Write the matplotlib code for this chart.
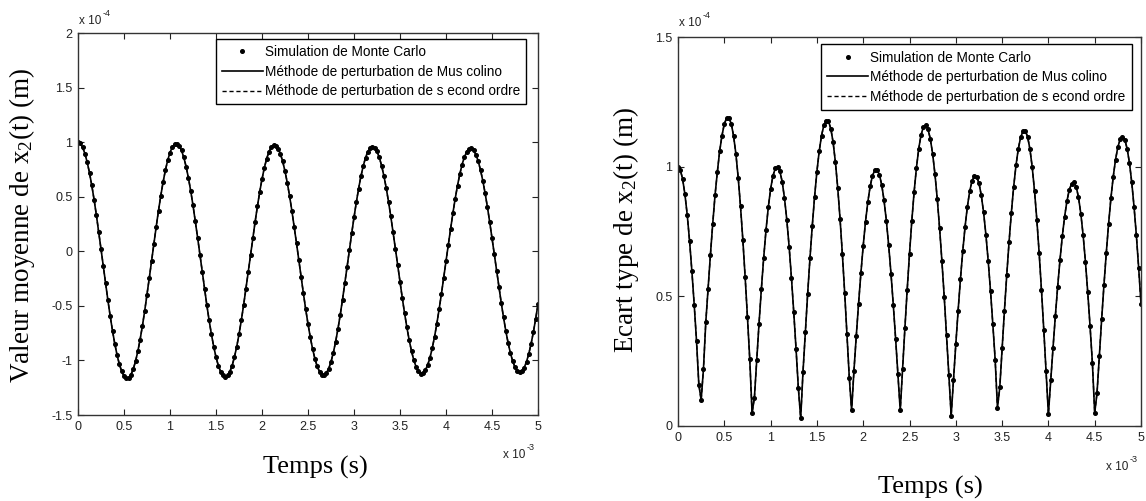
import numpy as np
import matplotlib
matplotlib.use("Agg")
import matplotlib.pyplot as plt
from matplotlib.lines import Line2D

plt.rcParams["mathtext.fontset"] = "custom"
plt.rcParams["mathtext.rm"] = "Liberation Serif"
plt.rcParams["mathtext.default"] = "rm"

# time grid (x 1e-3 s)
time_ms = np.linspace(0, 5, 201)

# mean of x2(t) (x 1e-4 m) - Monte Carlo / perturbation curves overlap
mean_mc = [
    1.000, 0.988, 0.953, 0.895, 0.816, 0.718, 0.603, 0.472, 0.330, 0.178, 0.021,
    -0.138, -0.295, -0.449, -0.594, -0.728, -0.848, -0.952, -1.036, -1.100, -1.143,
    -1.162, -1.158, -1.131, -1.081, -1.009, -0.918, -0.809, -0.684, -0.546, -0.398,
    -0.244, -0.087, 0.071, 0.225, 0.373, 0.510, 0.635, 0.743, 0.834, 0.905,
    0.954, 0.981, 0.985, 0.966, 0.924, 0.860, 0.776, 0.673, 0.554, 0.421,
    0.277, 0.126, -0.030, -0.187, -0.342, -0.491, -0.631, -0.760, -0.873, -0.969,
    -1.047, -1.103, -1.138, -1.149, -1.138, -1.104, -1.048, -0.971, -0.875, -0.762,
    -0.634, -0.494, -0.346, -0.192, -0.036, 0.118, 0.269, 0.411, 0.543, 0.661,
    0.763, 0.847, 0.910, 0.952, 0.971, 0.967, 0.941, 0.893, 0.823, 0.734,
    0.627, 0.505, 0.370, 0.225, 0.074, -0.081, -0.235, -0.386, -0.531, -0.666,
    -0.788, -0.895, -0.984, -1.054, -1.103, -1.130, -1.134, -1.116, -1.075, -1.013,
    -0.930, -0.830, -0.714, -0.584, -0.443, -0.295, -0.142, 0.012, 0.164, 0.310,
    0.448, 0.574, 0.686, 0.780, 0.857, 0.912, 0.947, 0.958, 0.948, 0.915,
    0.860, 0.785, 0.691, 0.581, 0.455, 0.319, 0.174, 0.023, -0.130, -0.282,
    -0.429, -0.569, -0.698, -0.814, -0.915, -0.997, -1.059, -1.101, -1.120, -1.117,
    -1.091, -1.044, -0.977, -0.890, -0.785, -0.665, -0.533, -0.392, -0.244, -0.092,
    0.059, 0.208, 0.350, 0.482, 0.602, 0.707, 0.795, 0.864, 0.912, 0.939,
    0.943, 0.926, 0.886, 0.826, 0.745, 0.647, 0.533, 0.406, 0.268, 0.123,
    -0.027, -0.177, -0.326, -0.470, -0.605, -0.729, -0.839, -0.932, -1.007, -1.062,
    -1.096, -1.108, -1.098, -1.066, -1.012, -0.939, -0.847, -0.739, -0.617, -0.484,
]
mean_muscolino = mean_mc
mean_second = mean_mc

# standard deviation of x2(t) (x 1e-4 m)
std_mc = [
    1.000, 0.988, 0.952, 0.893, 0.813, 0.713, 0.597, 0.468, 0.328, 0.160, 0.100,
    0.220, 0.400, 0.530, 0.660, 0.780, 0.890, 0.980, 1.060, 1.120, 1.165,
    1.187, 1.188, 1.166, 1.119, 1.050, 0.958, 0.847, 0.719, 0.575, 0.420,
    0.257, 0.050, 0.109, 0.254, 0.395, 0.527, 0.647, 0.754, 0.843, 0.914,
    0.964, 0.993, 1.000, 0.983, 0.942, 0.879, 0.795, 0.692, 0.572, 0.439,
    0.296, 0.145, 0.030, 0.210, 0.363, 0.509, 0.646, 0.772, 0.884, 0.981,
    1.060, 1.120, 1.159, 1.178, 1.175, 1.147, 1.094, 1.017, 0.918, 0.799,
    0.663, 0.514, 0.353, 0.186, 0.060, 0.213, 0.346, 0.472, 0.589, 0.695,
    0.788, 0.864, 0.924, 0.965, 0.986, 0.988, 0.969, 0.930, 0.870, 0.792,
    0.697, 0.588, 0.467, 0.337, 0.200, 0.060, 0.219, 0.376, 0.525, 0.664,
    0.791, 0.903, 0.996, 1.070, 1.123, 1.153, 1.160, 1.144, 1.107, 1.049,
    0.971, 0.875, 0.763, 0.636, 0.498, 0.350, 0.197, 0.040, 0.179, 0.315,
    0.445, 0.566, 0.674, 0.768, 0.846, 0.905, 0.944, 0.963, 0.961, 0.937,
    0.890, 0.824, 0.738, 0.636, 0.520, 0.392, 0.256, 0.070, 0.149, 0.299,
    0.444, 0.581, 0.709, 0.823, 0.923, 1.005, 1.069, 1.113, 1.136, 1.138,
    1.116, 1.069, 0.999, 0.907, 0.796, 0.668, 0.525, 0.372, 0.211, 0.046,
    0.176, 0.302, 0.424, 0.537, 0.640, 0.731, 0.807, 0.867, 0.910, 0.934,
    0.940, 0.923, 0.882, 0.819, 0.736, 0.633, 0.515, 0.384, 0.244, 0.050,
    0.127, 0.271, 0.411, 0.544, 0.667, 0.779, 0.878, 0.961, 1.027, 1.076,
    1.105, 1.115, 1.104, 1.070, 1.015, 0.940, 0.845, 0.735, 0.609, 0.472,
]
std_muscolino = std_mc
std_second = std_mc

x_ticks = [0, 0.5, 1, 1.5, 2, 2.5, 3, 3.5, 4, 4.5, 5]
mean_yticks = [-1.5, -1, -0.5, 0, 0.5, 1, 1.5, 2]
std_yticks = [0, 0.5, 1, 1.5]

legend_labels = ["Simulation de Monte Carlo",
                 "Méthode de perturbation de Mus colino",
                 "Méthode de perturbation de s econd ordre"]

SANS = "Liberation Sans"
SERIF = "Liberation Serif"

W, H = 1146, 501
fig = plt.figure(figsize=(W / 100, H / 100), dpi=100)


def px_axes(x0, x1, ytop, ybot):
    return fig.add_axes([x0 / W, 1 - ybot / H, (x1 - x0) / W, (ybot - ytop) / H])


def fmt(v):
    return ("%g" % v)


def style(ax, yticks, ylim):
    ax.set_xlim(0, 5)
    ax.set_ylim(*ylim)
    ax.set_xticks(x_ticks)
    ax.set_xticklabels([fmt(v) for v in x_ticks])
    ax.set_yticks(yticks)
    ax.set_yticklabels([fmt(v) for v in yticks])
    ax.tick_params(direction="in", length=4, width=0.8, top=True, right=True,
                   labelsize=9, pad=4, colors="#222222")
    for lab in ax.get_xticklabels() + ax.get_yticklabels():
        lab.set_fontfamily(SANS)
    for sp in ax.spines.values():
        sp.set_linewidth(1.0)
        sp.set_color("#333333")


def draw(ax, mc, mus, sec):
    ax.plot(time_ms, mus, color="black", lw=1.2, ls="-")
    ax.plot(time_ms, sec, color="black", lw=1.0, ls=(0, (3, 2)))
    ax.plot(time_ms, mc, ls="none", marker="o", ms=2.6, color="black")
    handles = [Line2D([], [], ls="none", marker="o", ms=2.6, color="black"),
               Line2D([], [], ls="-", lw=1.2, color="black"),
               Line2D([], [], ls=(0, (3, 2)), lw=1.0, color="black")]
    return handles


def offset_label(x, y, exp):
    fig.text(x / W, 1 - y / H, "x 10", fontsize=8.5, family=SANS,
             ha="left", va="center", color="#222222")
    fig.text((x + 24) / W, 1 - (y - 8) / H, exp, fontsize=6.5, family=SANS,
             ha="left", va="center", color="#222222")


def add_legend(ax, h, anchor):
    leg = ax.legend(h, legend_labels, loc="upper right", bbox_to_anchor=anchor,
                    prop={"family": SANS, "size": 9.8}, frameon=True, fancybox=False,
                    framealpha=1, edgecolor="black", handlelength=3.0,
                    handletextpad=0.15, labelspacing=0.42, borderpad=0.45,
                    borderaxespad=0, numpoints=1)
    leg.get_frame().set_linewidth(1.0)


# ---- left panel
ax1 = px_axes(78, 538, 33, 415)
style(ax1, mean_yticks, (-1.5, 2))
h = draw(ax1, mean_mc, mean_muscolino, mean_second)
add_legend(ax1, h, (0.974, 0.985))
offset_label(79, 21, "-4")
offset_label(503, 455, "-3")
fig.text(315 / W, 1 - 467 / H, "Temps (s)", family=SERIF, fontsize=19,
         ha="center", va="center")
fig.text(22 / W, 1 - 225 / H, r"Valeur moyenne de x$_2$(t) (m)", family=SERIF,
         fontsize=19.5, rotation=90, ha="center", va="center")

# ---- right panel
ax2 = px_axes(678, 1141, 37, 426)
style(ax2, std_yticks, (0, 1.5))
h = draw(ax2, std_mc, std_muscolino, std_second)
add_legend(ax2, h, (0.98, 0.981))
offset_label(679, 23, "-4")
offset_label(1106, 467, "-3")
fig.text(930 / W, 1 - 487 / H, "Temps (s)", family=SERIF, fontsize=19,
         ha="center", va="center")
fig.text(626 / W, 1 - 230 / H, r"Ecart type de x$_2$(t) (m)", family=SERIF,
         fontsize=19.5, rotation=90, ha="center", va="center")

fig.savefig("out.png", dpi=100)
